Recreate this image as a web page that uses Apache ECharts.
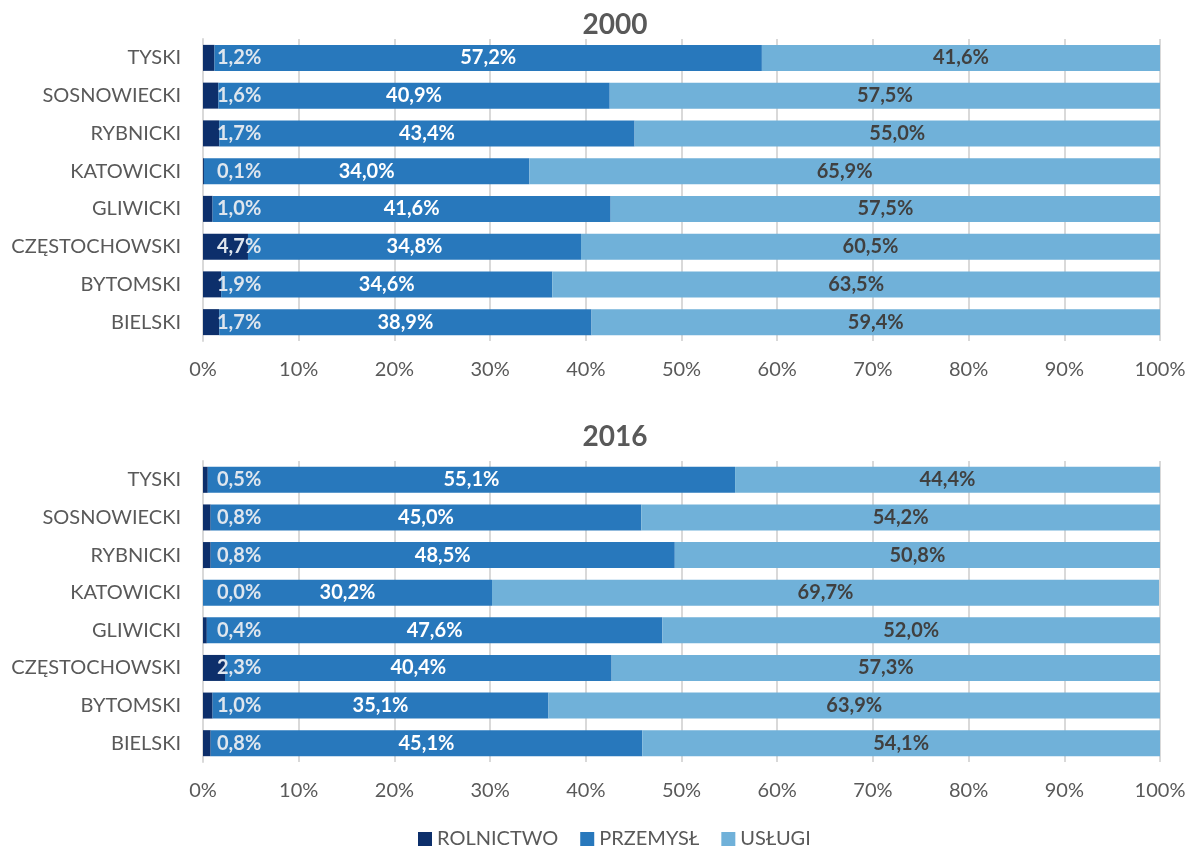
<!DOCTYPE html>
<html>
<head>
<meta charset="utf-8">
<script src="https://cdn.jsdelivr.net/npm/echarts@6/dist/echarts.min.js"></script>
<style>
  html, body { margin: 0; padding: 0; background: #fff; }
  #chart { width: 1191px; height: 848px; }
</style>
</head>
<body>
<div id="chart"></div>
<script>
const regions = ['TYSKI', 'SOSNOWIECKI', 'RYBNICKI', 'KATOWICKI', 'GLIWICKI', 'CZĘSTOCHOWSKI', 'BYTOMSKI', 'BIELSKI']
const sectors = ['ROLNICTWO', 'PRZEMYSŁ', 'USŁUGI']
const years = ['2000', '2016']

const rol2000 = [1.2, 1.6, 1.7, 0.1, 1.0, 4.7, 1.9, 1.7]
const prz2000 = [57.2, 40.9, 43.4, 34.0, 41.6, 34.8, 34.6, 38.9]
const usl2000 = [41.6, 57.5, 55.0, 65.9, 57.5, 60.5, 63.5, 59.4]

const rol2016 = [0.5, 0.8, 0.8, 0.0, 0.4, 2.3, 1.0, 0.8]
const prz2016 = [55.1, 45.0, 48.5, 30.2, 47.6, 40.4, 35.1, 45.1]
const usl2016 = [44.4, 54.2, 50.8, 69.7, 52.0, 57.3, 63.9, 54.1]

const colors = ['#0d2f6b', '#2878bc', '#70b1d9']
const labelColors = ['#dfe6ee', '#ffffff', '#404040']
const font = 'Lato, "Open Sans", sans-serif'

const fmt = v => v.toFixed(1).replace('.', ',') + '%'

const grids = [
    { left: 203, right: 31, top: 39, height: 302 },
    { left: 203, right: 31, top: 461, height: 301 }
]

function makeSeries(data, idx, gi) {
    const label = {
        show: true,
        fontFamily: font,
        fontSize: 20,
        fontWeight: 'bold',
        color: labelColors[idx],
        formatter: p => fmt(p.value)
    }
    if (idx === 0) {
        // rolnictwo label sits just right of the axis, Excel style
        label.position = [14, '50%']
        label.verticalAlign = 'middle'
        label.align = 'left'
    } else {
        label.position = 'inside'
    }
    return {
        name: sectors[idx],
        type: 'bar',
        stack: 'y' + gi,
        xAxisIndex: gi,
        yAxisIndex: gi,
        barWidth: 26,
        itemStyle: { color: colors[idx] },
        label,
        emphasis: { disabled: true },
        data
    }
}

const chart = echarts.init(document.getElementById('chart'))

const xAxisBase = {
    type: 'value',
    min: 0,
    max: 100,
    interval: 10,
    axisLine: { show: false },
    axisTick: { show: false },
    splitLine: { lineStyle: { color: '#d9d9d9', width: 2 } },
    axisLabel: { formatter: '{value}%', color: '#595959', fontSize: 20, fontFamily: font, margin: 19 }
}
const yAxisBase = {
    type: 'category',
    data: regions,
    inverse: true,
    axisLine: { show: true, lineStyle: { color: '#d9d9d9', width: 2 } },
    axisTick: { show: false },
    axisLabel: { color: '#595959', fontSize: 20, fontFamily: font, margin: 22 }
}

const option = {
    animation: false,
    color: colors,
    title: years.map((y, i) => ({
        text: y,
        left: 610,
        textAlign: 'center',
        top: i === 0 ? 6 : 418,
        textStyle: { fontSize: 28, fontWeight: 'bold', color: '#595959', fontFamily: font }
    })),
    legend: {
        data: sectors,
        top: 824,
        left: 413,
        icon: 'rect',
        itemWidth: 14,
        itemHeight: 14,
        itemGap: 22,
        textStyle: { color: '#595959', fontSize: 20, fontFamily: font }
    },
    grid: grids,
    xAxis: [Object.assign({ gridIndex: 0 }, xAxisBase), Object.assign({ gridIndex: 1 }, xAxisBase)],
    yAxis: [Object.assign({ gridIndex: 0 }, yAxisBase), Object.assign({ gridIndex: 1 }, yAxisBase)],
    series: [
        makeSeries(rol2000, 0, 0),
        makeSeries(prz2000, 1, 0),
        makeSeries(usl2000, 2, 0),
        makeSeries(rol2016, 0, 1),
        makeSeries(prz2016, 1, 1),
        makeSeries(usl2016, 2, 1)
    ]
}

chart.setOption(option)
</script>
</body>
</html>
